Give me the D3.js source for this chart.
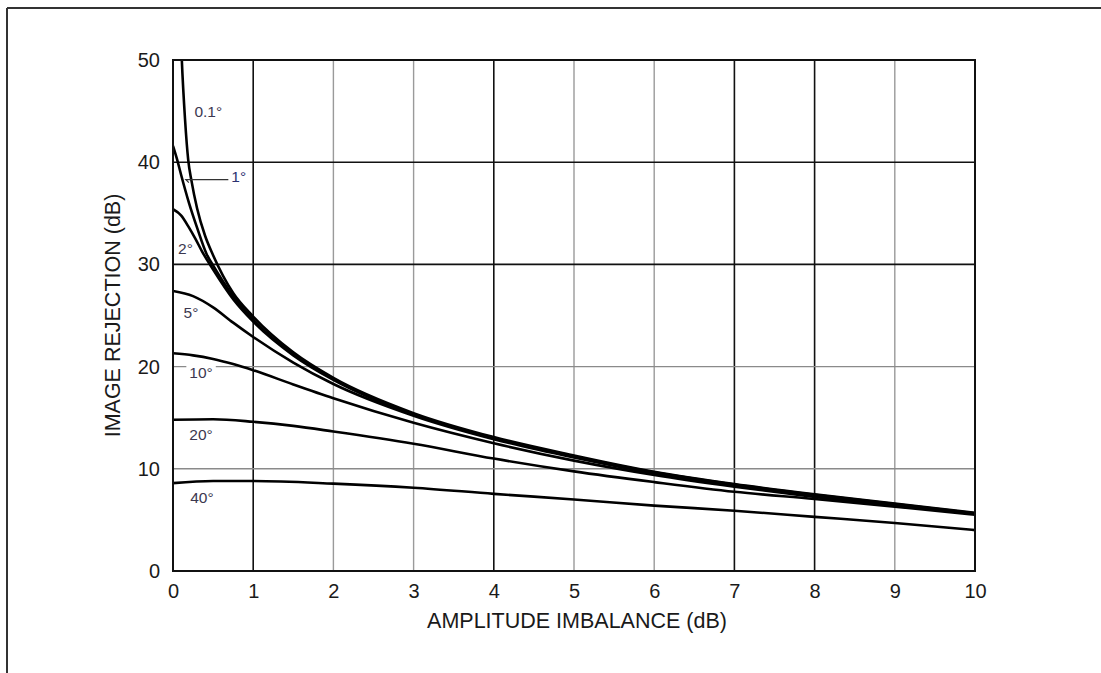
<!DOCTYPE html>
<html>
<head>
<meta charset="utf-8">
<script src="https://cdn.jsdelivr.net/npm/d3@7/dist/d3.min.js"></script>
<style>
  body { margin: 0; background: #fff; }
  svg { display: block; font-family: "Liberation Sans", Arial, sans-serif; }
</style>
</head>
<body>
<script>
// axis ticks
const xTicks = [0, 1, 2, 3, 4, 5, 6, 7, 8, 9, 10];
const yTicks = [0, 10, 20, 30, 40, 50];

// curves: [amplitude imbalance dB, image rejection dB]
const phase01 = [[0.1, 52], [0.11, 50], [0.15, 44.2], [0.19, 40.2], [0.23, 38.2], [0.3, 35.5], [0.4, 32.8], [0.5, 30.9],
                 [0.75, 27.2], [1, 24.9], [1.5, 21.4], [2, 18.9], [3, 15.45], [4, 13.1], [5, 11.3], [6, 9.7], [7, 8.5], [8, 7.5], [9, 6.6], [10, 5.7]];
const phase1 = [[0, 41.6], [0.05, 40.3], [0.1, 38.8], [0.2, 36.0], [0.3, 33.6], [0.42, 31.0], [0.5, 29.9], [0.75, 26.9],
                [1, 24.6], [1.5, 21.2], [2, 18.8], [3, 15.3], [4, 13.0], [5, 11.2], [6, 9.65], [7, 8.45], [8, 7.45], [9, 6.55], [10, 5.65]];
const phase2 = [[0, 35.4], [0.1, 34.8], [0.2, 33.6], [0.28, 32.5], [0.36, 31.3], [0.5, 29.5], [0.75, 26.6], [1, 24.4],
                [1.5, 21.1], [2, 18.7], [3, 15.3], [4, 13.0], [5, 11.2], [6, 9.6], [7, 8.4], [8, 7.4], [9, 6.5], [10, 5.6]];
const phase5 = [[0, 27.4], [0.25, 26.9], [0.5, 25.8], [0.75, 24.3], [1, 22.9], [1.5, 20.4], [2, 18.3], [3, 15.2],
                [4, 12.9], [5, 11.1], [6, 9.55], [7, 8.35], [8, 7.35], [9, 6.45], [10, 5.6]];
const phase10 = [[0, 21.3], [0.25, 21.1], [0.5, 20.75], [0.75, 20.25], [1, 19.65], [1.5, 18.25], [2, 16.9], [3, 14.5],
                 [4, 12.5], [5, 10.8], [6, 9.4], [7, 8.25], [8, 7.25], [9, 6.4], [10, 5.6]];
const phase20 = [[0, 14.8], [0.5, 14.85], [1, 14.6], [1.5, 14.2], [2, 13.65], [3, 12.45], [4, 11.0], [5, 9.75],
                 [6, 8.7], [7, 7.75], [8, 7.05], [9, 6.3], [10, 5.5]];
const phase40 = [[0, 8.6], [0.5, 8.8], [1, 8.8], [2, 8.55], [3, 8.15], [4, 7.55], [5, 7.0], [6, 6.4],
                 [7, 5.9], [8, 5.3], [9, 4.7], [10, 4.0]];

const curveNames = ["0.1°", "1°", "2°", "5°", "10°", "20°", "40°"];
const curveData = [phase01, phase1, phase2, phase5, phase10, phase20, phase40];

// where each curve label sits, in data units
const labelX = [0.44, 0.82, 0.156, 0.224, 0.35, 0.35, 0.36];
const labelY = [45.0, 38.6, 31.6, 25.3, 19.4, 13.4, 7.2];

// grid lines that print darker in the original
const darkX = [1, 4, 7, 8];
const darkY = [30, 40];

const W = 1101, H = 673;
const plotL = 173, plotR = 975, plotT = 60, plotB = 571;

const svg = d3.select("body").append("svg")
  .attr("width", W)
  .attr("height", H);

// page frame (top and left edges only)
svg.append("line").attr("x1", 7).attr("x2", W).attr("y1", 8).attr("y2", 8)
  .attr("stroke", "#333").attr("stroke-width", 2);
svg.append("line").attr("x1", 7).attr("x2", 7).attr("y1", 8).attr("y2", H)
  .attr("stroke", "#333").attr("stroke-width", 2);

const x = d3.scaleLinear().domain([0, 10]).range([plotL, plotR]);
const y = d3.scaleLinear().domain([0, 50]).range([plotB, plotT]);

// grid
const grid = svg.append("g");
grid.selectAll(".vg")
  .data(xTicks.filter(d => d > 0 && d < 10))
  .enter().append("line")
  .attr("x1", d => x(d)).attr("x2", d => x(d))
  .attr("y1", plotT).attr("y2", plotB)
  .attr("stroke", d => darkX.includes(d) ? "#111" : "#9a9a9a")
  .attr("stroke-width", d => darkX.includes(d) ? 1.6 : 1.4);
grid.selectAll(".hg")
  .data(yTicks.filter(d => d > 0 && d < 50))
  .enter().append("line")
  .attr("x1", plotL).attr("x2", plotR)
  .attr("y1", d => y(d)).attr("y2", d => y(d))
  .attr("stroke", d => darkY.includes(d) ? "#111" : "#8a8a8a")
  .attr("stroke-width", d => darkY.includes(d) ? 1.6 : 1.4);

// tick labels via d3 axes
const xAxis = svg.append("g")
  .attr("transform", `translate(0,${plotB})`)
  .call(d3.axisBottom(x).tickValues(xTicks).tickSize(0).tickPadding(13).tickFormat(d3.format("d")));
const yAxis = svg.append("g")
  .attr("transform", `translate(${plotL},0)`)
  .call(d3.axisLeft(y).tickValues(yTicks).tickSize(0).tickPadding(13).tickFormat(d3.format("d")));
[xAxis, yAxis].forEach(a => {
  a.select(".domain").remove();
  a.selectAll("text").attr("font-size", 20).attr("fill", "#1a1a1a")
    .attr("font-family", "'Liberation Sans', Arial, sans-serif");
});

// curves
svg.append("clipPath").attr("id", "plotClip")
  .append("rect").attr("x", plotL).attr("y", plotT).attr("width", plotR - plotL).attr("height", plotB - plotT);

const line = d3.line()
  .x(d => x(d[0]))
  .y(d => y(d[1]))
  .curve(d3.curveMonotoneX);

svg.append("g").attr("clip-path", "url(#plotClip)")
  .selectAll("path")
  .data(curveData)
  .enter().append("path")
  .attr("d", line)
  .attr("fill", "none")
  .attr("stroke", "#000")
  .attr("stroke-width", 2.6);

// plot border
svg.append("rect")
  .attr("x", plotL).attr("y", plotT)
  .attr("width", plotR - plotL).attr("height", plotB - plotT)
  .attr("fill", "none").attr("stroke", "#111").attr("stroke-width", 2);

// curve labels
const labels = svg.append("g");
curveNames.forEach((name, i) => {
  const t = labels.append("text")
    .attr("x", x(labelX[i]))
    .attr("y", y(labelY[i]))
    .attr("text-anchor", "middle")
    .attr("dominant-baseline", "central")
    .attr("font-size", 15.5)
    .attr("fill", name === "1°" ? "#2b3170" : "#3c3850")
    .text(name);
  if (name === "10°") {
    // label knocks out the grid line behind it
    const b = t.node().getBBox();
    labels.insert("rect", "text")
      .attr("x", b.x - 3).attr("y", b.y)
      .attr("width", b.width + 6).attr("height", b.height)
      .attr("fill", "#fff");
  }
});

// leader line for the 1° label, with a small hook at the curve end
labels.append("path")
  .attr("d", `M${x(0.69)},${y(38.3)} H${x(0.16)} l${3},${3}`)
  .attr("fill", "none")
  .attr("stroke", "#333").attr("stroke-width", 1.2);

// axis titles
svg.append("text")
  .attr("x", 577)
  .attr("y", 621)
  .attr("text-anchor", "middle")
  .attr("dominant-baseline", "central")
  .attr("font-size", 21.5)
  .attr("fill", "#1a1a1a")
  .text("AMPLITUDE IMBALANCE (dB)");

svg.append("text")
  .attr("transform", `translate(113,${(plotT + plotB) / 2}) rotate(-90)`)
  .attr("text-anchor", "middle")
  .attr("dominant-baseline", "central")
  .attr("font-size", 21.5)
  .attr("fill", "#1a1a1a")
  .text("IMAGE REJECTION (dB)");
</script>
</body>
</html>
